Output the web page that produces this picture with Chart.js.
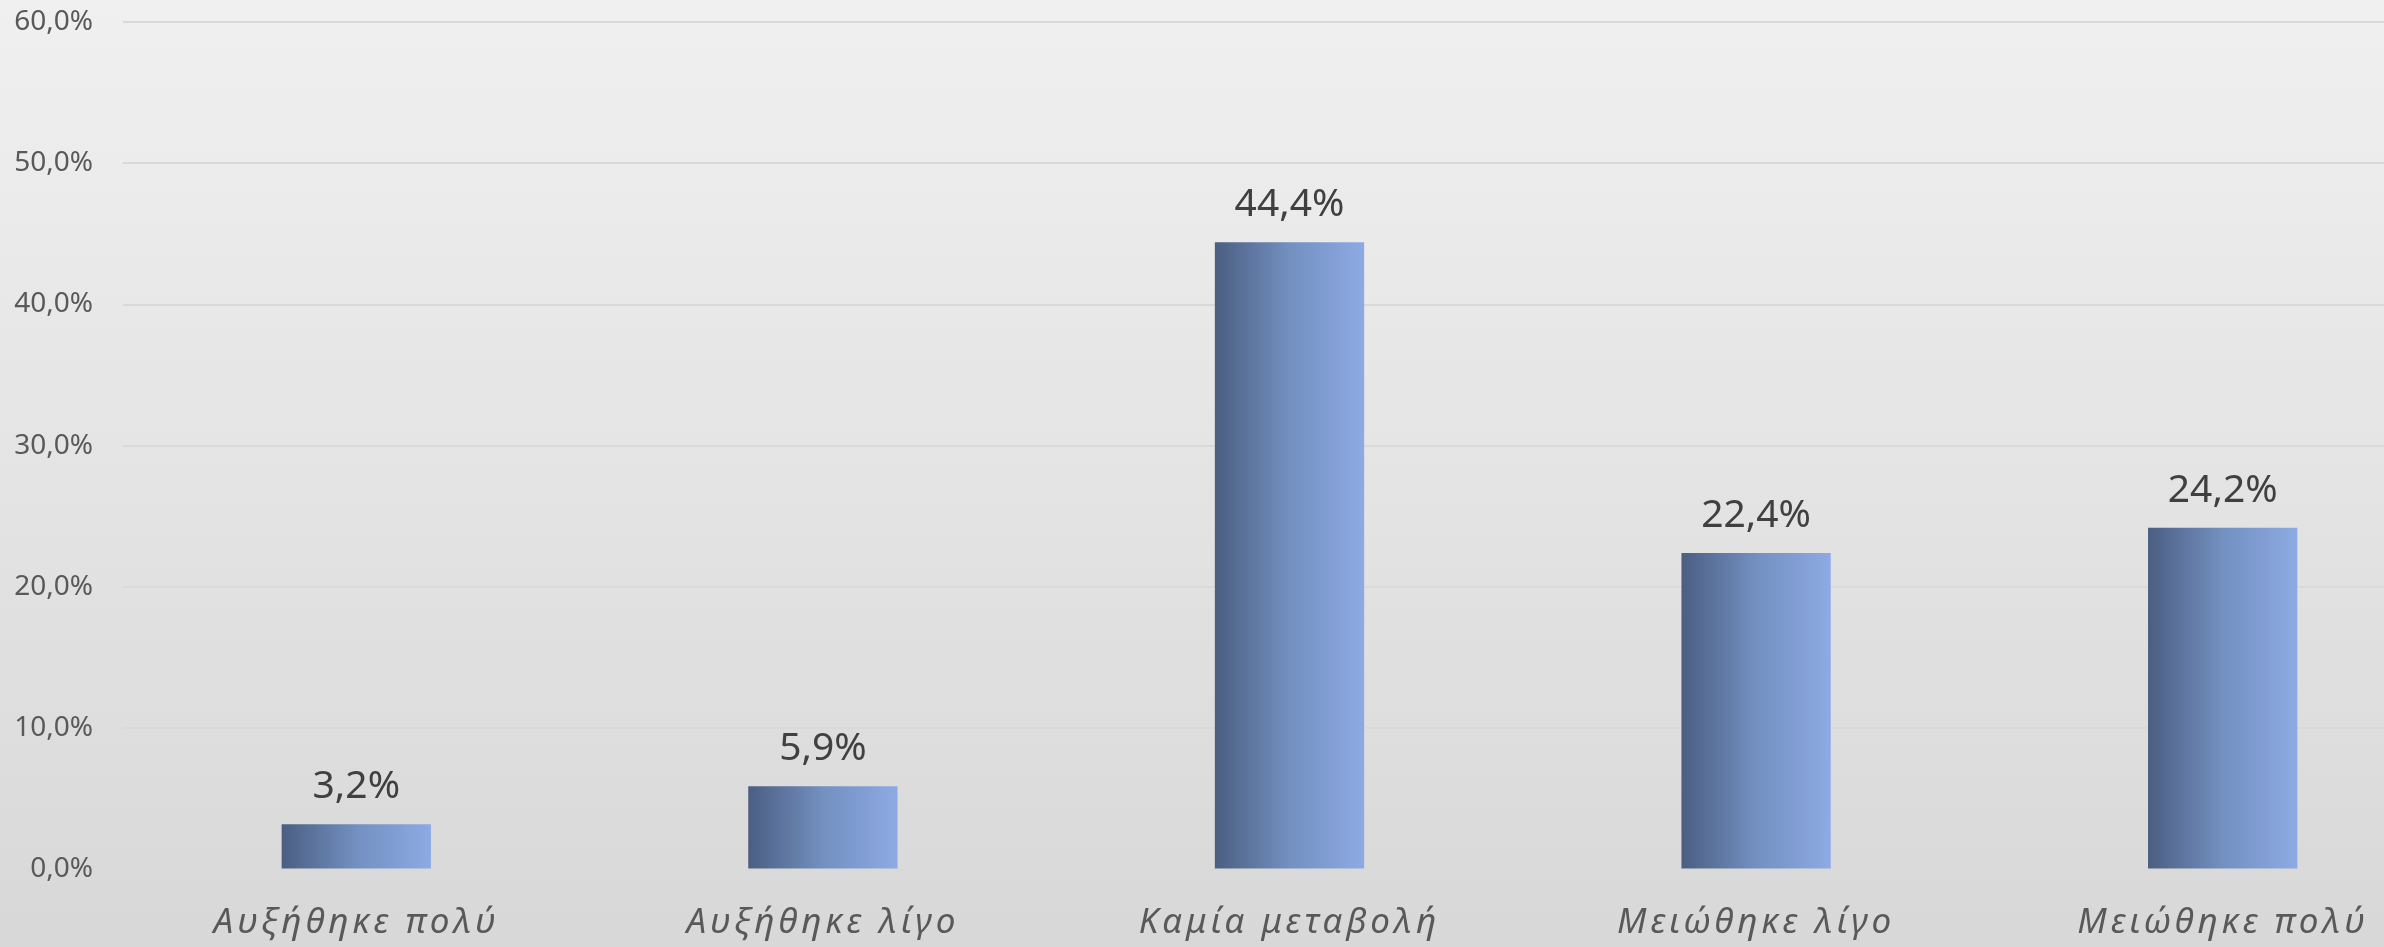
<!DOCTYPE html>
<html>
<head>
<meta charset="utf-8">
<script src="https://cdn.jsdelivr.net/npm/chart.js@4"></script>
<style>
html,body{margin:0;padding:0;overflow:hidden;width:2384px;height:947px;}
body{background:linear-gradient(to bottom,#f0f0f0 0%,#d8d8d8 100%);}
#wrap{position:absolute;left:0;top:0;width:2456px;height:947px;}
</style>
</head>
<body>
<div id="wrap"><canvas id="c"></canvas></div>
<script>
const categories = ["Αυξήθηκε πολύ", "Αυξήθηκε λίγο", "Καμία μεταβολή", "Μειώθηκε λίγο", "Μειώθηκε πολύ"];
const values = [3.2, 5.9, 44.4, 22.4, 24.2];
const yTicks = [0, 10, 20, 30, 40, 50, 60];

const fmt = v => v.toFixed(1).replace('.', ',') + '%';

const gradientBars = {
  id: 'gradientBars',
  beforeDatasetDraw(chart, args) {
    const ctx = chart.ctx;
    const meta = args.meta;
    meta.data.forEach(el => {
      const l = el.x - el.width / 2, r = el.x + el.width / 2;
      const g = ctx.createLinearGradient(l, 0, r, 0);
      g.addColorStop(0, '#4b5e82');
      g.addColorStop(0.5, '#7290c0');
      g.addColorStop(1, '#8eaae4');
      el.options = Object.assign({}, el.options, { backgroundColor: g });
    });
  }
};

const spacedXLabels = {
  id: 'spacedXLabels',
  beforeDraw(chart) {
    const sx = chart.scales.x;
    if (sx && !sx._spacedPatched) {
      const orig = sx.drawLabels.bind(sx);
      sx.drawLabels = function (area) {
        const ctx = chart.ctx;
        const prev = ctx.letterSpacing;
        ctx.letterSpacing = '4px';
        orig(area);
        ctx.letterSpacing = prev || '0px';
      };
      sx._spacedPatched = true;
    }
  }
};

const valueLabels = {
  id: 'valueLabels',
  afterDatasetsDraw(chart) {
    const ctx = chart.ctx;
    const meta = chart.getDatasetMeta(0);
    ctx.save();
    ctx.font = '39px "Noto Sans"';
    ctx.fillStyle = '#404040';
    ctx.textAlign = 'center';
    ctx.textBaseline = 'alphabetic';
    meta.data.forEach((el, i) => {
      ctx.fillText(fmt(values[i]), el.x, el.y - 26);
    });
    ctx.restore();
  }
};

new Chart(document.getElementById('c'), {
  type: 'bar',
  data: {
    labels: categories,
    datasets: [{
      data: values,
      backgroundColor: '#7290c0',
      borderWidth: 0,
      categoryPercentage: 1,
      barPercentage: 0.32
    }]
  },
  options: {
    responsive: true,
    maintainAspectRatio: false,
    animation: false,
    layout: { padding: { top: 22, left: 0, right: 0, bottom: 0 } },
    plugins: { legend: { display: false }, tooltip: { enabled: false } },
    scales: {
      x: {
        grid: { display: false, drawTicks: false },
        border: { display: false },
        ticks: {
          color: '#595959',
          font: { family: '"Noto Sans"', size: 35, style: 'italic' },
          padding: 33,
          maxRotation: 0,
          autoSkip: false
        },
        afterFit(scale) { scale.height = 77.5; scale.paddingLeft = 0; scale.paddingRight = 0; }
      },
      y: {
        min: 0,
        max: 60,
        afterBuildTicks(scale) { scale.ticks = yTicks.map(v => ({ value: v })); },
        grid: { color: '#d9d9d9', lineWidth: 2, drawTicks: false },
        border: { display: false },
        ticks: {
          color: '#595959',
          font: { family: '"Noto Sans"', size: 28 },
          padding: 30,
          callback: v => fmt(v)
        },
        afterFit(scale) { scale.width = 123; scale.paddingTop = 0; scale.paddingBottom = 0; }
      }
    }
  },
  plugins: [gradientBars, spacedXLabels, valueLabels]
});
</script>
</body>
</html>
